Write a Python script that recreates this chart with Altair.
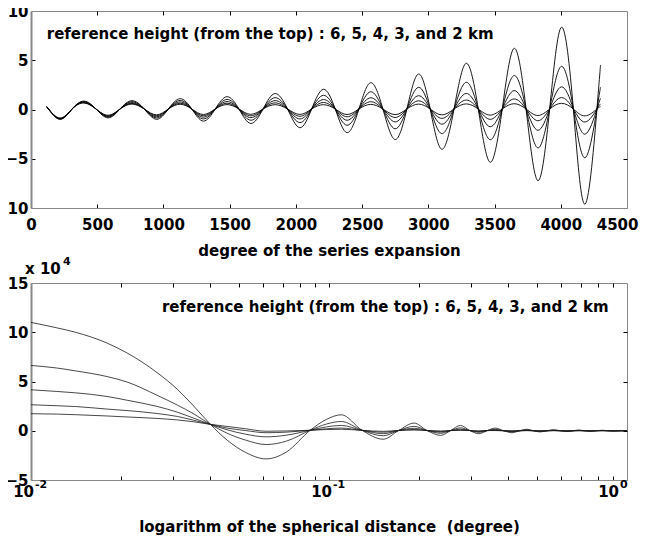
import altair as alt
import pandas as pd

FONT = "DejaVu Sans"

# ---------------- top panel: degree of the series expansion ----------------
degree = [119, 219, 310, 400, 491, 582, 672, 762, 855, 948, 1037, 1126, 1214, 1302,
          1391, 1480, 1570, 1660, 1752, 1843, 1937, 2030, 2119, 2208, 2297, 2386,
          2476, 2565, 2657, 2749, 2838, 2926, 3014, 3102, 3194, 3286, 3377, 3467,
          3558, 3648, 3738, 3827, 3916, 4005, 4095, 4184, 4273, 4300]

top_6km = [0.28, -1.00, 0.05, 0.85, 0.05, -0.85, 0.05, 0.90, 0.05, -1.00, 0.05, 1.10,
           0.05, -1.18, 0.05, 1.30, 0.05, -1.42, 0.05, 1.62, 0.05, -1.85, 0.05, 2.05,
           0.05, -2.35, 0.05, 2.72, 0.05, -3.05, 0.05, 3.60, 0.05, -4.04, 0.05, 4.69,
           0.05, -5.36, 0.05, 6.21, 0.05, -7.23, 0.05, 8.35, 0.05, -9.60, 0.05, 4.50]
top_5km = [0.28, -0.97, 0.05, 0.80, 0.05, -0.77, 0.05, 0.80, 0.05, -0.86, 0.05, 0.92,
           0.05, -0.96, 0.05, 1.02, 0.05, -1.09, 0.05, 1.20, 0.05, -1.33, 0.05, 1.44,
           0.05, -1.60, 0.05, 1.80, 0.05, -1.96, 0.05, 2.25, 0.05, -2.45, 0.05, 2.76,
           0.05, -3.07, 0.05, 3.45, 0.05, -3.90, 0.05, 4.38, 0.05, -4.89, 0.05, 2.26]
top_4km = [0.28, -0.93, 0.05, 0.75, 0.05, -0.70, 0.05, 0.70, 0.05, -0.74, 0.05, 0.77,
           0.05, -0.78, 0.05, 0.81, 0.05, -0.83, 0.05, 0.90, 0.05, -0.96, 0.05, 1.01,
           0.05, -1.09, 0.05, 1.19, 0.05, -1.26, 0.05, 1.40, 0.05, -1.49, 0.05, 1.63,
           0.05, -1.75, 0.05, 1.92, 0.05, -2.11, 0.05, 2.30, 0.05, -2.50, 0.05, 1.13]
top_3km = [0.28, -0.90, 0.05, 0.70, 0.05, -0.64, 0.05, 0.62, 0.05, -0.63, 0.05, 0.64,
           0.05, -0.63, 0.05, 0.64, 0.05, -0.64, 0.05, 0.67, 0.05, -0.69, 0.05, 0.71,
           0.05, -0.74, 0.05, 0.79, 0.05, -0.81, 0.05, 0.88, 0.05, -0.90, 0.05, 0.96,
           0.05, -1.00, 0.05, 1.07, 0.05, -1.14, 0.05, 1.21, 0.05, -1.27, 0.05, 0.57]
top_2km = [0.28, -0.87, 0.05, 0.66, 0.05, -0.58, 0.05, 0.55, 0.05, -0.54, 0.05, 0.53,
           0.05, -0.51, 0.05, 0.50, 0.05, -0.49, 0.05, 0.49, 0.05, -0.50, 0.05, 0.49,
           0.05, -0.51, 0.05, 0.52, 0.05, -0.52, 0.05, 0.55, 0.05, -0.55, 0.05, 0.57,
           0.05, -0.57, 0.05, 0.59, 0.05, -0.61, 0.05, 0.63, 0.05, -0.65, 0.05, 0.28]

# ---------------- bottom panel: spherical distance (degree), values x 10^4 ----------------
dist = [0.01, 0.0122, 0.0141, 0.018, 0.021, 0.0265, 0.031, 0.035, 0.040, 0.0455,
        0.0525, 0.0615, 0.072, 0.0865, 0.098, 0.110, 0.129, 0.152, 0.1714, 0.193,
        0.213, 0.237, 0.256, 0.276, 0.297, 0.318, 0.34, 0.361, 0.386, 0.411, 0.436,
        0.461, 0.486, 0.511, 0.539, 0.567, 0.598, 0.629, 0.659, 0.689, 0.72, 0.754,
        0.789, 0.824, 0.862, 0.901, 0.95, 1.0]

bot_6km = [11.0, 10.45, 10.0, 8.9, 7.9, 5.9, 4.2, 2.57, 0.65, -0.95, -2.2, -2.86, -2.15,
           0.05, 1.15, 1.62, 0.05, -0.86, 0.03, 0.78, 0.03, -0.47, 0.02, 0.54, 0.02,
           -0.30, 0.02, 0.27, 0.0, -0.20, 0.0, 0.15, 0.0, -0.12, 0.0, 0.10, 0.0, -0.08,
           0.0, 0.07, 0.0, -0.06, 0.0, 0.05, 0.0, -0.04, 0.0, 0.02]
bot_5km = [6.63, 6.37, 6.08, 5.5, 4.95, 3.6, 2.6, 1.75, 0.65, -0.25, -0.95, -1.40, -1.05,
           0.05, 0.68, 0.94, 0.05, -0.51, 0.03, 0.45, 0.03, -0.26, 0.02, 0.30, 0.02,
           -0.16, 0.02, 0.15, 0.0, -0.11, 0.0, 0.08, 0.0, -0.07, 0.0, 0.06, 0.0, -0.05,
           0.0, 0.04, 0.0, -0.035, 0.0, 0.03, 0.0, -0.025, 0.0, 0.01]
bot_4km = [4.16, 3.99, 3.85, 3.48, 3.1, 2.47, 1.88, 1.3, 0.65, 0.1, -0.35, -0.62, -0.45,
           0.05, 0.39, 0.54, 0.05, -0.30, 0.03, 0.25, 0.03, -0.14, 0.02, 0.16, 0.02,
           -0.09, 0.02, 0.08, 0.0, -0.06, 0.0, 0.045, 0.0, -0.04, 0.0, 0.03, 0.0, -0.025,
           0.0, 0.02, 0.0, -0.02, 0.0, 0.015, 0.0, -0.012, 0.0, 0.01]
bot_3km = [2.64, 2.54, 2.46, 2.2, 2.05, 1.75, 1.45, 1.08, 0.65, 0.27, 0.02, -0.2, -0.14,
           0.05, 0.2, 0.27, 0.04, -0.15, 0.03, 0.13, 0.03, -0.07, 0.02, 0.08, 0.02,
           -0.05, 0.02, 0.04, 0.0, -0.03, 0.0, 0.025, 0.0, -0.02, 0.0, 0.015, 0.0, -0.012,
           0.0, 0.01, 0.0, -0.01, 0.0, 0.008, 0.0, -0.006, 0.0, 0.0]
bot_2km = [1.73, 1.69, 1.63, 1.5, 1.4, 1.25, 1.1, 0.92, 0.65, 0.44, 0.2, -0.05, -0.02,
           0.05, 0.12, 0.15, 0.04, -0.06, 0.03, 0.07, 0.03, -0.03, 0.02, 0.04, 0.02,
           -0.02, 0.02, 0.02, 0.0, -0.015, 0.0, 0.01, 0.0, -0.01, 0.0, 0.008, 0.0, -0.006,
           0.0, 0.005, 0.0, -0.005, 0.0, 0.004, 0.0, -0.003, 0.0, 0.0]

heights = ["6 km", "5 km", "4 km", "3 km", "2 km"]

# ---------------- ticks, labels, annotations ----------------
top_ticks_x = [0, 500, 1000, 1500, 2000, 2500, 3000, 3500, 4000, 4500]
top_ticks_y = [-10, -5, 0, 5, 10]
bot_ticks_y = [-5, 0, 5, 10, 15]
bot_grid_x = [0.02, 0.03, 0.04, 0.05, 0.06, 0.07, 0.08, 0.09, 0.1,
              0.2, 0.3, 0.4, 0.5, 0.6, 0.7, 0.8, 0.9]
log_label_x = [0.01, 0.1, 1.0]
log_label_exp = ["-2", "-1", "0"]
note_text = "reference height (from the top) : 6, 5, 4, 3, and 2 km"
note_top_pos = [119, 7.7]
note_bot_pos = [0.0275, 12.6]
scale_note_pos = [0.01, 15]

# ---------------- build tables ----------------
top_df = pd.DataFrame([
    {"degree": d, "value": v, "h": h}
    for h, ser in zip(heights, [top_6km, top_5km, top_4km, top_3km, top_2km])
    for d, v in zip(degree, ser)
])
bot_df = pd.DataFrame([
    {"dist": d, "value": v, "h": h}
    for h, ser in zip(heights, [bot_6km, bot_5km, bot_4km, bot_3km, bot_2km])
    for d, v in zip(dist, ser)
])

W, H = 596, 197
txt = dict(font=FONT, fontWeight="bold", color="black")


def edge_off(a, b):
    return {"condition": {"test": f"datum.value == {a} || datum.value == {b}", "value": 0}, "value": 1}


last_x = top_ticks_x[-1]

# ---------- top chart ----------
tx = alt.X("degree:Q", scale=alt.Scale(domain=[0, 4500], nice=False, zero=False),
           axis=alt.Axis(values=top_ticks_x, format="d", title="degree of the series expansion",
                         grid=True, gridDash=[4, H - 8, 4], gridOpacity=edge_off(0, 4500),
                         ticks=False, tickSize=0, labelPadding=9, titlePadding=11,
                         labelOverlap=False, labelFlush=False,
                         labelAlign={"condition": {"test": f"datum.value == {last_x}", "value": "right"},
                                     "value": "center"},
                         labelOffset={"condition": {"test": f"datum.value == {last_x}", "value": 11},
                                      "value": 0},
                         domainColor="#888888", domainWidth=1))
ty = alt.Y("value:Q", scale=alt.Scale(domain=[-10, 10], nice=False, zero=False),
           axis=alt.Axis(values=top_ticks_y, title=None, grid=True,
                         gridDash=[4, W - 8, 4], gridOpacity=edge_off(-10, 10),
                         ticks=False, tickSize=0, labelPadding=3, labelOverlap=False,
                         labelFlush=False, domainColor="#888888", domainWidth=2))

top_lines = alt.Chart(top_df).mark_line(interpolate="natural", color="black", strokeWidth=0.9).encode(
    x=tx, y=ty, detail="h:N")
top_note = alt.Chart(pd.DataFrame({"degree": [note_top_pos[0]], "value": [note_top_pos[1]],
                                   "t": [note_text]})).mark_text(
    align="left", baseline="middle", fontSize=15, **txt).encode(
    x=alt.X("degree:Q"), y=alt.Y("value:Q"), text="t:N")
top = alt.layer(top_lines, top_note).properties(width=W, height=H)

# ---------- bottom chart ----------
bx = alt.X("dist:Q", scale=alt.Scale(type="log", domain=[0.01, 1], nice=False),
           axis=alt.Axis(values=bot_grid_x, labels=False, ticks=False, tickSize=0,
                         title="logarithm of the spherical distance \u00a0(degree)",
                         grid=True, gridDash=[4, H - 8, 4], titlePadding=39,
                         domainColor="#888888", domainWidth=1))
by = alt.Y("value:Q", scale=alt.Scale(domain=[-5, 15], nice=False, zero=False),
           axis=alt.Axis(values=bot_ticks_y, title=None, grid=True,
                         gridDash=[4, W - 8, 4], gridOpacity=edge_off(-5, 15),
                         ticks=False, tickSize=0, labelPadding=3, labelOverlap=False,
                         labelFlush=False, domainColor="#888888", domainWidth=2))

bot_lines = alt.Chart(bot_df).mark_line(interpolate="monotone", color="#1a1a1a", strokeWidth=0.8).encode(
    x=bx, y=by, detail="h:N")
bot_note = alt.Chart(pd.DataFrame({"dist": [note_bot_pos[0]], "value": [note_bot_pos[1]],
                                   "t": [note_text]})).mark_text(
    align="left", baseline="middle", fontSize=15, **txt).encode(
    x=alt.X("dist:Q"), y=alt.Y("value:Q"), text="t:N")

scale_df = pd.DataFrame({"dist": [scale_note_pos[0]], "value": [scale_note_pos[1]]})
scale_base = alt.Chart(scale_df).mark_text(align="left", baseline="middle", fontSize=15,
                                           dx=-6, dy=-14, **txt).encode(
    x="dist:Q", y="value:Q", text=alt.value("x 10"))
scale_exp = alt.Chart(scale_df).mark_text(align="left", baseline="middle", fontSize=11,
                                          dx=32, dy=-21, **txt).encode(
    x="dist:Q", y="value:Q", text=alt.value("4"))

lab_df = pd.DataFrame({"dist": log_label_x, "value": [-5] * len(log_label_x), "exp": log_label_exp})
lab10_a = alt.Chart(lab_df).transform_filter("datum.dist < 1").mark_text(
    align="right", baseline="middle", fontSize=15, dx=3, dy=12, **txt).encode(
    x="dist:Q", y="value:Q", text=alt.value("10"))
labexp_a = alt.Chart(lab_df).transform_filter("datum.dist < 1").mark_text(
    align="left", baseline="middle", fontSize=11, dx=4, dy=5, **txt).encode(
    x="dist:Q", y="value:Q", text="exp:N")
lab10_b = alt.Chart(lab_df).transform_filter("datum.dist >= 1").mark_text(
    align="right", baseline="middle", fontSize=15, dx=-8, dy=12, **txt).encode(
    x="dist:Q", y="value:Q", text=alt.value("10"))
labexp_b = alt.Chart(lab_df).transform_filter("datum.dist >= 1").mark_text(
    align="left", baseline="middle", fontSize=11, dx=-7, dy=5, **txt).encode(
    x="dist:Q", y="value:Q", text="exp:N")

bottom = alt.layer(bot_lines, bot_note, scale_base, scale_exp,
                   lab10_a, labexp_a, lab10_b, labexp_b).properties(width=W, height=H)

chart = alt.vconcat(top, bottom, spacing=75, bounds="flush").properties(
    padding={"left": -14, "top": -5, "right": 2, "bottom": 0}
).configure_view(
    stroke="#888888", strokeWidth=1
).configure_axis(
    labelFont=FONT, labelFontSize=15, labelFontWeight="bold", labelColor="black",
    titleFont=FONT, titleFontSize=15, titleFontWeight="bold", titleColor="black",
    gridColor="black", gridWidth=1
)

chart.save("out.html", embed_options={"renderer": "svg", "actions": False})
